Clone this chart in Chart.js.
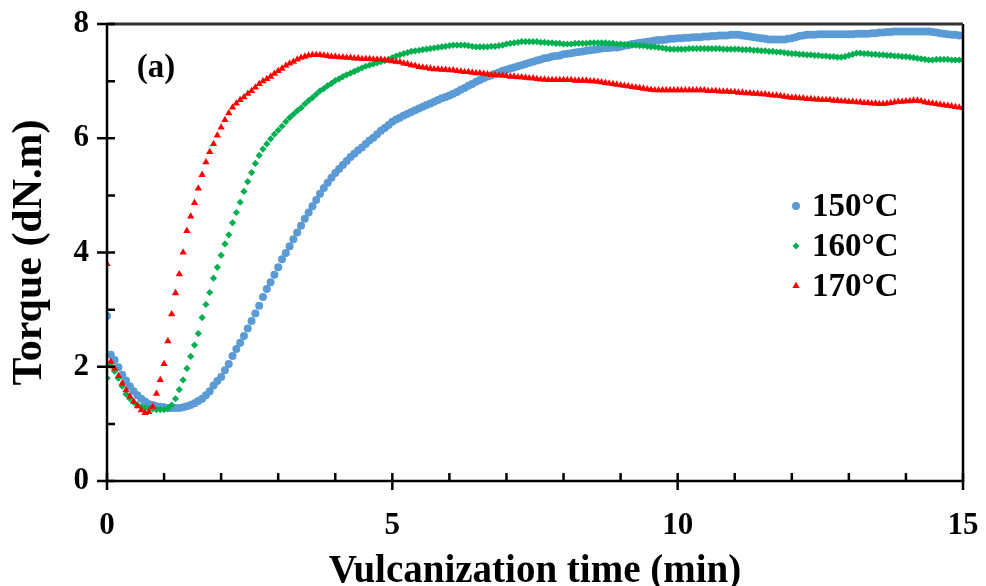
<!DOCTYPE html>
<html>
<head>
<meta charset="utf-8">
<script src="https://cdn.jsdelivr.net/npm/chart.js@4.4.0/dist/chart.umd.min.js"></script>
<style>
  html, body { margin: 0; padding: 0; background: #fff; }
  #wrap { width: 986px; height: 586px; position: relative; }
</style>
</head>
<body>
<div id="wrap"><canvas id="torque-chart"></canvas></div>
<script>
const serif = "'Liberation Serif', 'Times New Roman', serif";

// rheometer reading every 4 s
const sampleStep = 1 / 15;
const seriesLabels = ['150°C', '160°C', '170°C'];
const seriesColors = ['#5B9BD5', '#00B050', '#FF0000'];
const seriesShapes = ['circle', 'rectRot', 'triangle'];
const xTickLabels = [0, 5, 10, 15];
const yTickLabels = [0, 2, 4, 6, 8];

// torque (dN.m), one row per minute
const torque150 = [
  2.89, 2.21, 2.12, 1.99, 1.86, 1.76, 1.66, 1.57, 1.50, 1.44, 1.39, 1.35, 1.33, 1.31, 1.30,
  1.29, 1.28, 1.28, 1.28, 1.28, 1.29, 1.31, 1.33, 1.36, 1.40, 1.44, 1.50, 1.57, 1.67, 1.75,
  1.82, 1.94, 2.05, 2.19, 2.31, 2.42, 2.54, 2.67, 2.80, 2.93, 3.07, 3.22, 3.36, 3.48, 3.61,
  3.74, 3.88, 3.99, 4.11, 4.23, 4.35, 4.47, 4.59, 4.70, 4.81, 4.92, 5.03, 5.13, 5.22, 5.31,
  5.39, 5.46, 5.53, 5.60, 5.67, 5.73, 5.79, 5.84, 5.90, 5.96, 6.01, 6.07, 6.13, 6.18, 6.23,
  6.29, 6.33, 6.36, 6.40, 6.43, 6.46, 6.49, 6.52, 6.55, 6.58, 6.61, 6.64, 6.67, 6.70, 6.72,
  6.75, 6.78, 6.81, 6.85, 6.88, 6.92, 6.95, 6.99, 7.02, 7.05, 7.08, 7.10, 7.13, 7.15, 7.18,
  7.20, 7.22, 7.24, 7.26, 7.28, 7.30, 7.32, 7.34, 7.36, 7.38, 7.40, 7.41, 7.43, 7.44, 7.45,
  7.47, 7.48, 7.49, 7.50, 7.51, 7.52, 7.53, 7.54, 7.55, 7.56, 7.57, 7.58, 7.58, 7.59, 7.59,
  7.60, 7.62, 7.63, 7.65, 7.66, 7.67, 7.68, 7.69, 7.70, 7.71, 7.72, 7.72, 7.73, 7.74, 7.74,
  7.75, 7.75, 7.76, 7.76, 7.77, 7.77, 7.77, 7.78, 7.78, 7.79, 7.79, 7.80, 7.80, 7.80, 7.81,
  7.81, 7.81, 7.80, 7.79, 7.78, 7.77, 7.76, 7.75, 7.74, 7.73, 7.73, 7.73, 7.73, 7.73, 7.74,
  7.75, 7.77, 7.79, 7.80, 7.81, 7.81, 7.81, 7.82, 7.82, 7.82, 7.82, 7.82, 7.82, 7.82, 7.82,
  7.82, 7.82, 7.83, 7.83, 7.83, 7.83, 7.84, 7.84, 7.85, 7.85, 7.86, 7.86, 7.87, 7.87, 7.87,
  7.87, 7.87, 7.87, 7.87, 7.87, 7.87, 7.87, 7.86, 7.85, 7.84, 7.83, 7.82, 7.81, 7.81, 7.80,
  7.80
];

const torque160 = [
  1.80, 2.02, 1.92, 1.80, 1.66, 1.52, 1.44, 1.38, 1.33, 1.30, 1.28, 1.27, 1.26, 1.25, 1.25,
  1.25, 1.27, 1.33, 1.44, 1.60, 1.77, 1.97, 2.18, 2.38, 2.58, 2.86, 3.09, 3.30, 3.55, 3.74,
  3.95, 4.15, 4.31, 4.52, 4.70, 4.88, 5.07, 5.24, 5.40, 5.56, 5.70, 5.81, 5.90, 5.99, 6.07,
  6.14, 6.21, 6.29, 6.36, 6.42, 6.48, 6.53, 6.60, 6.66, 6.71, 6.77, 6.83, 6.87, 6.92, 6.96,
  7.01, 7.04, 7.08, 7.11, 7.14, 7.17, 7.20, 7.23, 7.26, 7.28, 7.30, 7.32, 7.34, 7.36, 7.38,
  7.41, 7.44, 7.46, 7.48, 7.50, 7.52, 7.53, 7.54, 7.55, 7.56, 7.57, 7.58, 7.59, 7.60, 7.61,
  7.62, 7.63, 7.63, 7.63, 7.63, 7.62, 7.61, 7.60, 7.60, 7.60, 7.60, 7.61, 7.61, 7.62, 7.63,
  7.65, 7.66, 7.67, 7.68, 7.69, 7.69, 7.69, 7.69, 7.69, 7.68, 7.68, 7.67, 7.67, 7.66, 7.66,
  7.65, 7.65, 7.65, 7.66, 7.66, 7.66, 7.66, 7.67, 7.67, 7.67, 7.67, 7.67, 7.66, 7.66, 7.65,
  7.65, 7.64, 7.64, 7.63, 7.63, 7.62, 7.62, 7.61, 7.60, 7.60, 7.59, 7.58, 7.57, 7.56, 7.56,
  7.56, 7.56, 7.56, 7.57, 7.57, 7.57, 7.57, 7.57, 7.57, 7.57, 7.57, 7.57, 7.56, 7.56, 7.56,
  7.56, 7.56, 7.55, 7.55, 7.55, 7.54, 7.54, 7.53, 7.53, 7.52, 7.52, 7.51, 7.51, 7.50, 7.49,
  7.48, 7.48, 7.47, 7.47, 7.46, 7.46, 7.45, 7.45, 7.44, 7.44, 7.43, 7.43, 7.42, 7.42, 7.43,
  7.45, 7.47, 7.49, 7.49, 7.48, 7.48, 7.47, 7.47, 7.46, 7.46, 7.45, 7.45, 7.44, 7.44, 7.43,
  7.43, 7.42, 7.41, 7.40, 7.39, 7.38, 7.37, 7.37, 7.38, 7.38, 7.38, 7.38, 7.37, 7.37, 7.37,
  7.37
];

const torque170 = [
  3.80, 2.09, 1.97, 1.84, 1.71, 1.59, 1.48, 1.39, 1.31, 1.24, 1.19, 1.21, 1.30, 1.53, 1.77,
  2.05, 2.45, 2.92, 3.29, 3.62, 4.00, 4.38, 4.63, 4.87, 5.12, 5.36, 5.58, 5.76, 5.90, 6.05,
  6.19, 6.32, 6.44, 6.54, 6.61, 6.67, 6.72, 6.78, 6.83, 6.89, 6.95, 7.00, 7.04, 7.08, 7.13,
  7.18, 7.22, 7.27, 7.31, 7.34, 7.38, 7.41, 7.43, 7.45, 7.46, 7.46, 7.46, 7.45, 7.44, 7.43,
  7.43, 7.42, 7.42, 7.41, 7.41, 7.40, 7.40, 7.39, 7.39, 7.39, 7.38, 7.38, 7.38, 7.37, 7.36,
  7.35, 7.34, 7.33, 7.31, 7.30, 7.28, 7.27, 7.25, 7.24, 7.23, 7.22, 7.21, 7.21, 7.20, 7.20,
  7.19, 7.19, 7.18, 7.17, 7.16, 7.16, 7.15, 7.14, 7.14, 7.13, 7.12, 7.11, 7.11, 7.10, 7.10,
  7.09, 7.08, 7.08, 7.07, 7.07, 7.06, 7.05, 7.05, 7.04, 7.03, 7.03, 7.02, 7.02, 7.02, 7.02,
  7.02, 7.02, 7.02, 7.01, 7.01, 7.01, 7.01, 7.00, 7.00, 6.99, 6.98, 6.97, 6.96, 6.95, 6.94,
  6.93, 6.92, 6.91, 6.90, 6.89, 6.88, 6.87, 6.86, 6.85, 6.84, 6.84, 6.84, 6.84, 6.84, 6.84,
  6.84, 6.84, 6.84, 6.84, 6.84, 6.84, 6.84, 6.84, 6.83, 6.83, 6.83, 6.82, 6.82, 6.82, 6.81,
  6.81, 6.80, 6.80, 6.79, 6.79, 6.78, 6.78, 6.77, 6.77, 6.76, 6.75, 6.75, 6.74, 6.73, 6.72,
  6.71, 6.71, 6.70, 6.70, 6.69, 6.69, 6.68, 6.68, 6.67, 6.67, 6.67, 6.66, 6.66, 6.65, 6.65,
  6.64, 6.64, 6.63, 6.63, 6.62, 6.62, 6.61, 6.61, 6.60, 6.60, 6.61, 6.62, 6.63, 6.64, 6.64,
  6.65, 6.65, 6.66, 6.66, 6.65, 6.63, 6.62, 6.61, 6.60, 6.59, 6.58, 6.57, 6.56, 6.55, 6.54,
  6.53
];

const allSeries = [torque150, torque160, torque170];
const markerSizes = [4, 3.6, 4.2];

const toPoints = (vals) => vals.map((v, i) => ({ x: i * sampleStep, y: v }));

// frame + excel style tick marks
const axisFrame = {
  id: 'axisFrame',
  afterDraw(chart) {
    const { ctx, chartArea: a, scales } = chart;
    const xs = scales.x, ys = scales.y;
    ctx.save();
    ctx.strokeStyle = '#000';
    ctx.lineWidth = 2.5;
    ctx.beginPath();
    ctx.moveTo(a.left, a.top);
    ctx.lineTo(a.left, a.bottom);
    ctx.lineTo(a.right, a.bottom);
    ctx.lineTo(a.right, a.top);
    ctx.stroke();
    ctx.strokeStyle = '#333';
    ctx.lineWidth = 3;
    ctx.beginPath();
    ctx.moveTo(a.left, a.top);
    ctx.lineTo(a.right, a.top);
    ctx.stroke();

    ctx.strokeStyle = '#000';
    ctx.lineWidth = 2.5;
    ctx.beginPath();
    for (let v = 0; v <= 8; v++) {
      const py = ys.getPixelForValue(v);
      const outer = v % 2 === 0 ? 10 : 0;
      ctx.moveTo(a.left - outer, py);
      ctx.lineTo(a.left + 8, py);
    }
    for (let t = 0; t <= 15; t++) {
      const px = xs.getPixelForValue(t);
      const outer = t % 5 === 0 ? 9 : 0;
      ctx.moveTo(px, a.bottom + outer);
      ctx.lineTo(px, a.bottom - 8);
    }
    ctx.stroke();
    ctx.restore();
  }
};

// legend inside plot + panel tag
const insideLegend = {
  id: 'insideLegend',
  afterDraw(chart) {
    const { ctx } = chart;
    ctx.save();
    ctx.font = 'bold 33px ' + serif;
    ctx.fillStyle = '#000';
    ctx.textBaseline = 'middle';
    ctx.textAlign = 'center';
    ctx.fillText('(a)', 156, 68);
    const rowY = [206, 246, 286];
    seriesLabels.forEach((lab, i) => {
      ctx.fillStyle = seriesColors[i];
      Chart.helpers.drawPoint(ctx, {
        pointStyle: seriesShapes[i], radius: markerSizes[i], rotation: 0, borderWidth: 0
      }, 796, rowY[i]);
      ctx.fillStyle = '#000';
      ctx.textAlign = 'left';
      ctx.fillText(lab, 812, rowY[i] + 1);
    });
    ctx.restore();
  }
};

new Chart(document.getElementById('torque-chart'), {
  type: 'scatter',
  data: {
    datasets: allSeries.map((vals, i) => ({
      label: seriesLabels[i],
      data: toPoints(vals),
      pointStyle: seriesShapes[i],
      pointRadius: markerSizes[i],
      pointBackgroundColor: seriesColors[i],
      pointBorderWidth: 0,
      borderColor: seriesColors[i],
      showLine: false,
      order: 3 - i
    }))
  },
  options: {
    responsive: true,
    maintainAspectRatio: false,
    animation: false,
    layout: { padding: { top: 24, right: 23, left: 0, bottom: 0 } },
    plugins: {
      legend: { display: false },
      tooltip: { enabled: false }
    },
    scales: {
      x: {
        type: 'linear',
        min: 0,
        max: 15,
        afterFit: (s) => { s.height = 105; s.paddingLeft = 0; s.paddingRight = 0; },
        afterBuildTicks: (s) => { s.ticks = xTickLabels.map((v) => ({ value: v })); },
        grid: { display: false, drawTicks: false },
        border: { display: false },
        ticks: {
          padding: 26,
          color: '#000',
          font: { family: serif, size: 31, weight: 'bold' },
          maxRotation: 0
        },
        title: {
          display: true,
          text: 'Vulcanization time (min)',
          color: '#000',
          font: { family: serif, size: 39, weight: 'bold' },
          padding: { top: 0, bottom: -9 }
        }
      },
      y: {
        min: 0,
        max: 8,
        afterFit: (s) => { s.width = 107; s.paddingTop = 0; s.paddingBottom = 0; },
        afterBuildTicks: (s) => { s.ticks = yTickLabels.map((v) => ({ value: v })); },
        grid: { display: false, drawTicks: false },
        border: { display: false },
        ticks: {
          padding: 18,
          color: '#000',
          font: { family: serif, size: 31, weight: 'bold' }
        },
        title: {
          display: true,
          text: 'Torque (dN.m)',
          color: '#000',
          font: { family: serif, size: 42, weight: 'bold' },
          padding: { top: 5, bottom: 0 }
        }
      }
    }
  },
  plugins: [axisFrame, insideLegend]
});
</script>
</body>
</html>
